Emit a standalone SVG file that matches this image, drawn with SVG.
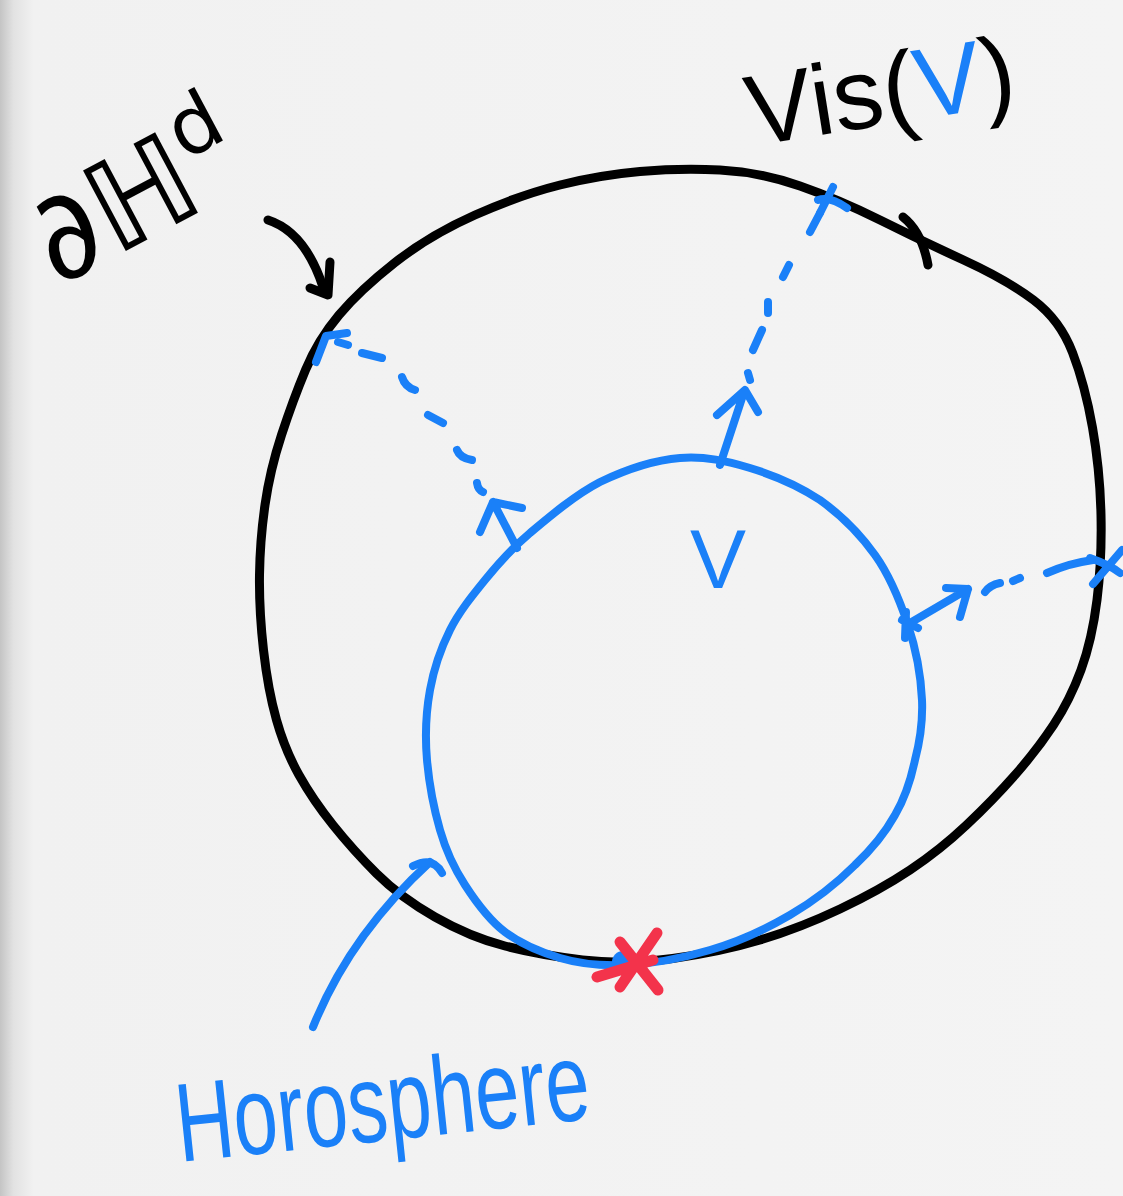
<svg xmlns="http://www.w3.org/2000/svg" width="1123" height="1196" viewBox="0 0 1123 1196">
<defs>
<linearGradient id="paper" x1="0" y1="0" x2="1" y2="0">
<stop offset="0" stop-color="#c4c4c4"/>
<stop offset="0.012" stop-color="#e2e2e2"/>
<stop offset="0.03" stop-color="#f1f1f1"/>
<stop offset="1" stop-color="#f4f4f4"/>
</linearGradient>
<style>
.blk{fill:none;stroke:#000;stroke-width:9;stroke-linecap:round;stroke-linejoin:round}
.blu{fill:none;stroke:#1a80f8;stroke-width:8;stroke-linecap:round;stroke-linejoin:round}
.red{fill:none;stroke:#f3334b;stroke-width:11;stroke-linecap:round}
.tb{font-family:"DejaVu Sans","Liberation Sans",sans-serif;fill:#000}
.tv{font-family:"Liberation Sans","DejaVu Sans",sans-serif;fill:#000}
.tu{font-family:"Liberation Sans","DejaVu Sans",sans-serif;fill:#1a80f8}
</style>
</defs>
<rect x="0" y="0" width="1123" height="1196" fill="url(#paper)"/>

<g id="boundary">
<path class="blk" d="M640,171.5 Q680,168 720,170 Q760,172 800,186 Q840,200 880,220 Q920,240 963.5,260 Q1007,280 1033.5,300 Q1060,320 1072.5,352.5 Q1085,385 1092.5,427.5 Q1100,470 1101,515 Q1102,560 1097,600 Q1092,640 1081,670 Q1070,700 1053.5,725 Q1037,750 1015,775 Q993,800 966.5,825 Q940,850 910,870 Q880,890 840,909 Q800,928 760,940 Q720,952 672.5,958.5 Q625,965 582.5,960 Q540,955 505,946 Q470,937 435,917 Q400,897 376.5,873.5 Q353,850 333,825 Q313,800 299,775 Q285,750 276.5,720 Q268,690 263.5,650 Q259,610 259.5,575 Q260,540 265,505 Q270,470 281.5,435 Q293,400 305.5,370 Q318,340 339,315 Q360,290 395,262.5 Q430,235 475,215 Q520,195 560,185 Q600,175 640,171.5 Z"/>
<path class="blk" d="M903,217 Q922,232 928,265"/>
</g>

<g id="horosphere">
<path class="blu" d="M625,965 C600,966 580,964 560,958 C540,952 521,944 505,932 C489,920 476,902 465,885 C454,868 446,851 440,830 C434,809 429,783 427,760 C425,737 426,712 430,690 C434,668 441,648 450,630 C459,612 472,596 485,580 C498,564 511,549 530,533 C549,517 575,495 600,482 C625,470 655,460 680,458 C705,456 727,461 750,468 C773,475 799,486 820,500 C841,515 860,534 875,555 C890,576 900,601 908,625 C916,649 921,678 922,700 C923,723 920,741 915,760 C911,779 905,798 895,815 C885,833 873,848 855,865 C838,882 814,901 790,915 C766,929 738,942 710,950 C683,958 650,964 625,965 Z"/>
</g>

<g id="label-boundary">
<text class="tb" font-size="125" transform="translate(58,287) rotate(-28)">∂ℍ<tspan font-size="80" dy="-52">d</tspan></text>
</g>

<g id="label-vis">
<text class="tv" font-size="100" transform="translate(752,146) rotate(-9)">Vis(<tspan fill="#1a80f8">V</tspan>)</text>
</g>

<g id="label-V">
<text class="tu" font-size="84" x="718" y="588" text-anchor="middle">V</text>
</g>

<g id="label-horosphere">
<text class="tu" font-size="112" textLength="415" lengthAdjust="spacingAndGlyphs" transform="translate(180,1162) rotate(-6)">Horosphere</text>
</g>

<g id="red-point">
<circle cx="623" cy="962" r="11" fill="#1a80f8"/>
<path class="red" d="M657,933 L620,987 M620,942 L658,990 M597,977 L653,960"/>
</g>

<g id="connectors">
<path class="blk" d="M268,220 Q305,232 323,287"/>
<path class="blk" d="M310,288 L328,295 L330,262"/>
<path class="blu" d="M313,1027 Q350,935 430,862"/>
<path class="blu" d="M413,866 Q433,856 442,873"/>
<path class="blu" d="M517,548 L493,502 M480,532 L493,502 L522,508"/>
<path class="blu" d="M477,483 Q478,490 483,492 M457,450 Q460,458 472,460 M428,415 L443,423 M402,377 Q405,387 415,390 M362,353 L382,358 M338,342 L348,345"/>
<path class="blu" d="M347,333 L326,336 L316,362"/>
<path class="blu" d="M720,465 L744,392 M717,415 L745,390 L758,412"/>
<path class="blu" d="M748,373 L750,380 M762,330 L753,350 M768,302 L768,313 M789,265 L783,277 M810,232 L820,213"/>
<path class="blu" d="M833,187 L820,213 M818,200 Q830,196 847,208"/>
<path class="blu" d="M910,623 L968,589 M946,588 L968,589 L960,617"/>
<path class="blu" d="M902,620 L918,628 M906,612 L905,638"/>
<path class="blu" d="M985,592 Q990,585 1000,583 M1013,581 L1020,578 M1047,573 Q1070,563 1093,560"/>
<path class="blu" d="M1122,550 L1093,584 M1090,558 Q1110,565 1120,573"/>
</g>
</svg>
